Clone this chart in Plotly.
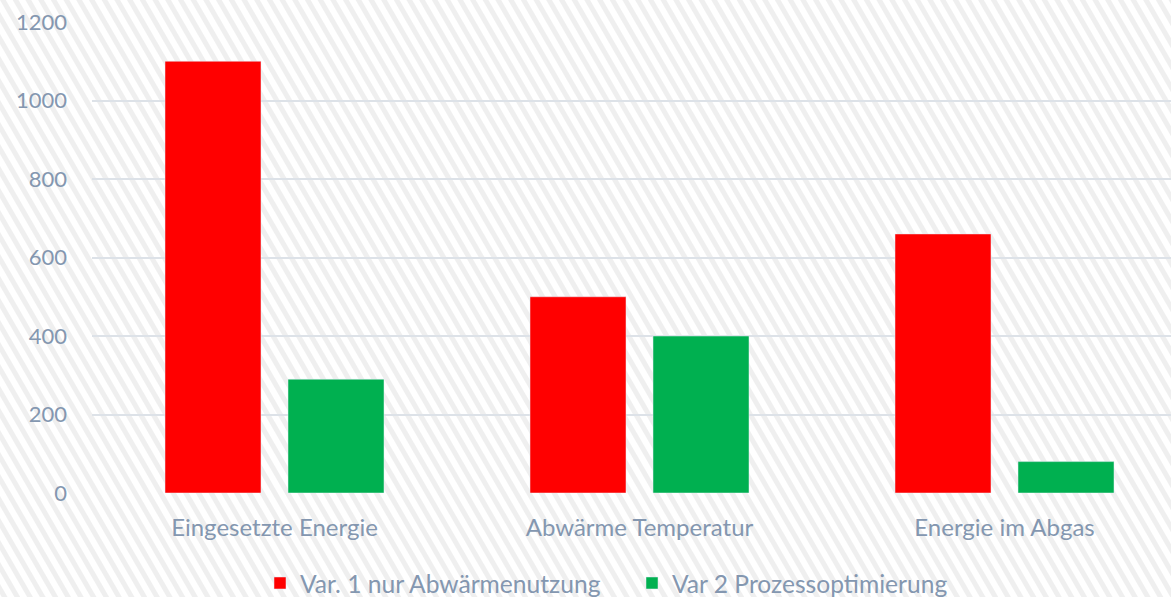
import base64
import plotly.graph_objects as go

categories = ["Eingesetzte Energie", "Abwärme Temperatur", "Energie im Abgas"]
series_names = ["Var. 1 nur Abwärmenutzung", "Var 2 Prozessoptimierung"]
var1_values = [1100, 500, 660]
var2_values = [290, 400, 80]
y_ticks = [0, 200, 400, 600, 800, 1000, 1200]

W, H = 1171, 597
ML, MR, MT, MB = 92, 0, 22, 104
PW, PH = W - ML - MR, H - MT - MB

TXT = "#8497B0"
FONT = "Lato"

svg = f'''<svg xmlns="http://www.w3.org/2000/svg" width="{W}" height="{H}">
<defs><pattern id="p" patternUnits="userSpaceOnUse" width="11" height="11" patternTransform="rotate(-30)">
<rect width="11" height="11" fill="#ffffff"/><rect x="0" width="5" height="11" fill="#efefef"/></pattern></defs>
<rect width="{W}" height="{H}" fill="url(#p)"/></svg>'''
src = "data:image/svg+xml;base64," + base64.b64encode(svg.encode()).decode()

xpos = list(range(len(categories)))
fig = go.Figure()
fig.add_trace(go.Bar(x=xpos, y=var1_values, name=series_names[0], marker_color="#FF0000",
                     width=0.263, offset=-0.3))
fig.add_trace(go.Bar(x=xpos, y=var2_values, name=series_names[1], marker_color="#00B050",
                     width=0.263, offset=0.037))

fig.update_layout(
    width=W, height=H,
    margin=dict(l=ML, r=MR, t=MT, b=MB, autoexpand=False),
    paper_bgcolor="rgba(0,0,0,0)", plot_bgcolor="rgba(0,0,0,0)",
    barmode="overlay",
    font=dict(family=FONT, size=21, color=TXT),
    images=[dict(source=src, xref="paper", yref="paper",
                 x=-ML / PW, y=1 + MT / PH, sizex=W / PW, sizey=H / PH,
                 xanchor="left", yanchor="top", sizing="stretch", layer="below")],
    xaxis=dict(range=[-0.5, -0.5 + PW / 365], tickvals=xpos, ticktext=categories,
               showgrid=False, zeroline=False, showline=False, ticks="",
               ticklabelstandoff=18, tickfont=dict(size=24, color=TXT)),
    yaxis=dict(range=[0, 1200], tickvals=y_ticks, showgrid=True, gridcolor="#DDE2E8",
               gridwidth=2, zeroline=False, showline=False, ticks="",
               ticklabelstandoff=24, tickfont=dict(size=22, color=TXT)),
    legend=dict(orientation="h", xref="container", yref="container",
                x=(282 - 22) / W, xanchor="left", y=1 - 583 / H, yanchor="middle",
                font=dict(size=24.6, color=TXT), bgcolor="rgba(0,0,0,0)",
                itemwidth=30, entrywidth=327),
    showlegend=True,
)
fig.write_html("out.html")
